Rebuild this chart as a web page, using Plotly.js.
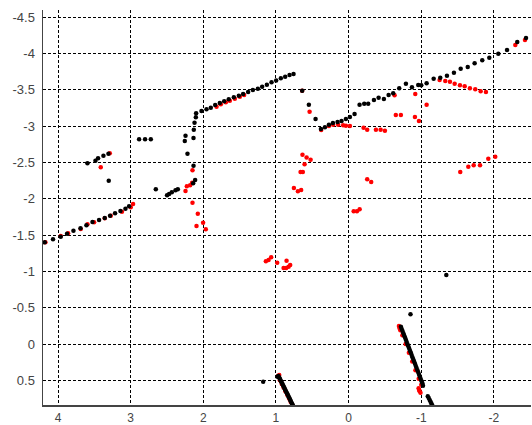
<!DOCTYPE html>
<html>
<head>
<meta charset="utf-8">
<script src="https://cdn.plot.ly/plotly-3.0.1.min.js"></script>
<style>html,body{margin:0;padding:0;background:#fff;}#chart{width:532px;height:425px;}</style>
</head>
<body>
<div id="chart"></div>
<script>
// Black series
const blackX = [4.183,4.069,3.963,3.876,3.788,3.691,3.609,3.526,3.435,3.357,3.284,3.215,3.141,3.072,3.022,
  3.595,3.485,3.449,3.375,3.306,3.302,
  2.884,2.802,2.723,2.654,
  2.499,2.471,2.434,2.383,2.351,
  2.14,2.113,2.135,2.218,2.255,2.245,2.135,2.131,2.121,2.103,2.099,
  2.025,1.956,1.897,1.837,1.773,1.713,1.65,1.58,1.511,1.452,1.383,1.318,1.249,1.19,1.125,1.061,0.997,0.933,0.873,0.813,0.758,
  0.639,0.547,0.455,
  0.381,0.326,0.271,0.216,0.152,0.097,0.037,-0.018,-0.082,-0.151,-0.215,-0.27,-0.349,-0.413,-0.486,-0.551,-0.614,-0.697,-0.789,-0.872,-0.959,-1.0,-1.074,-1.171,-1.262,-1.354,-1.45,-1.543,-1.64,-1.735,-1.84,-1.937,-2.061,-2.181,-2.322,-2.442,
  -1.345,-0.852,1.176,
  0.98,0.967,0.955,0.947,0.94,0.93,0.922,0.912,0.903,0.895,0.885,0.876,0.868,0.858,0.848,0.84,0.83,0.822,0.812,0.803,0.795,0.786,0.776,0.768,
  -0.72,-0.731,-0.742,-0.754,-0.765,-0.777,-0.788,-0.8,-0.811,-0.822,-0.834,-0.845,-0.857,-0.868,-0.879,-0.891,-0.902,-0.914,-0.925,-0.936,-0.948,-0.959,-0.971,-0.982,-0.993,-1.005,-1.016,-1.024,
  -1.09,-1.103,-1.116,-1.128,-1.14,-1.152];
const blackY = [-1.40,-1.442,-1.478,-1.519,-1.561,-1.594,-1.635,-1.68,-1.707,-1.736,-1.767,-1.80,-1.832,-1.864,-1.897,
  -2.489,-2.525,-2.558,-2.594,-2.621,-2.25,
  -2.82,-2.82,-2.82,-2.131,
  -2.048,-2.066,-2.09,-2.117,-2.131,
  -2.213,-2.259,-2.456,-2.621,-2.796,-2.869,-2.837,-2.952,-3.048,-3.123,-3.178,
  -3.209,-3.233,-3.255,-3.292,-3.32,-3.343,-3.37,-3.398,-3.42,-3.444,-3.471,-3.499,-3.517,-3.544,-3.572,-3.605,-3.628,-3.66,-3.682,-3.705,-3.719,
  -3.489,-3.296,-3.099,
  -2.961,-2.984,-3.021,-3.044,-3.058,-3.072,-3.099,-3.127,-3.168,-3.296,-3.31,-3.31,-3.361,-3.393,-3.375,-3.43,-3.453,-3.522,-3.585,-3.536,-3.567,-3.563,-3.59,-3.654,-3.668,-3.696,-3.737,-3.792,-3.815,-3.866,-3.908,-3.944,-3.999,-4.05,-4.16,-4.215,
  -0.95,-0.409,0.519,
  0.452,0.441,0.46,0.478,0.492,0.512,0.53,0.548,0.567,0.585,0.603,0.622,0.64,0.66,0.679,0.697,0.716,0.733,0.752,0.771,0.79,0.808,0.827,0.845,
  -0.238,-0.208,-0.178,-0.148,-0.118,-0.088,-0.058,-0.028,0.002,0.032,0.062,0.092,0.122,0.152,0.182,0.212,0.242,0.272,0.302,0.332,0.362,0.392,0.422,0.452,0.482,0.512,0.542,0.575,
  0.72,0.745,0.77,0.795,0.82,0.845];

// Red series
const redX = [4.174,3.963,3.862,3.687,3.595,3.504,3.357,3.274,3.12,2.999,2.967,
  3.412,3.288,
  2.149,2.154,2.182,2.227,2.245,2.149,2.076,2.094,2.003,1.966,
  1.818,1.759,1.69,1.635,1.566,1.497,1.438,
  0.639,0.537,
  0.377,0.271,0.213,0.144,0.075,0.037,-0.018,
  -0.206,-0.256,-0.376,-0.441,-0.5,
  -0.633,-0.65,-0.72,-0.913,-0.968,-0.918,-1.074,
  -1.253,-1.331,-1.395,-1.46,-1.533,-1.598,-1.67,-1.744,-1.818,-1.891,
  -2.295,-2.428,
  -1.537,-1.648,-1.722,-1.809,-1.923,-2.019,
  0.635,0.578,0.523,0.606,0.661,0.63,0.753,0.698,0.653,
  -0.256,-0.311,
  -0.07,-0.115,-0.152,
  1.139,1.102,1.066,0.983,0.895,0.859,0.854,0.826,0.804,
  0.955,0.972,0.946,0.92,0.895,0.87,0.846,0.82,0.797,0.775,
  -0.693,-0.7,-0.712,-0.74,-0.785,-0.83,-0.876,-0.92,-0.965,-1.0,-0.964,-0.97,-0.978,-0.99];
const redY = [-1.40,-1.488,-1.525,-1.584,-1.649,-1.676,-1.731,-1.767,-1.822,-1.883,-1.928,
  -2.434,-2.627,
  -2.393,-2.222,-2.186,-2.172,-2.107,-1.946,-1.795,-1.625,-1.671,-1.58,
  -3.269,-3.301,-3.329,-3.351,-3.379,-3.406,-3.43,
  -3.489,-3.2,
  -2.948,-3.003,-3.021,-3.021,-3.012,-3.007,-3.003,
  -2.98,-2.952,-2.952,-2.952,-2.938,
  -3.425,-3.154,-3.154,-3.127,-3.072,-3.444,-3.296,
  -3.636,-3.623,-3.613,-3.585,-3.563,-3.549,-3.522,-3.508,-3.48,-3.471,
  -4.119,-4.187,
  -2.369,-2.442,-2.461,-2.461,-2.553,-2.58,
  -2.608,-2.567,-2.539,-2.475,-2.369,-2.369,-2.149,-2.103,-2.121,
  -2.268,-2.231,
  -1.828,-1.828,-1.855,
  -1.139,-1.157,-1.194,-1.12,-1.047,-1.047,-1.148,-1.065,-1.088,
  0.427,0.44,0.5,0.55,0.6,0.65,0.7,0.75,0.8,0.84,
  -0.248,-0.222,-0.19,-0.12,0.0,0.12,0.24,0.36,0.48,0.56,0.61,0.63,0.65,0.67];

const xTickVals = [4,3,2,1,0,-1,-2];
const xTickText = ['4','3','2','1','0','-1','-2'];
const yTickVals = [-4.5,-4,-3.5,-3,-2.5,-2,-1.5,-1,-0.5,0,0.5];
const yTickText = ['-4.5','-4','-3.5','-3','-2.5','-2','-1.5','-1','-0.5','0','0.5'];

const traces = [
  {x: redX, y: redY, type: 'scatter', mode: 'markers', marker: {color: '#ff0000', size: 4.5}, hoverinfo: 'skip'},
  {x: blackX, y: blackY, type: 'scatter', mode: 'markers', marker: {color: '#000000', size: 4.5}, hoverinfo: 'skip'}
];

const axisCommon = {
  showgrid: true, gridcolor: '#000', gridwidth: 1, griddash: '3px,2px',
  zeroline: false, showline: true, linecolor: '#444', linewidth: 1.5,
  ticks: '', tickmode: 'array', mirror: false
};

const layout = {
  width: 532, height: 425,
  margin: {l: 43, r: 1, t: 10, b: 20},
  paper_bgcolor: '#fff', plot_bgcolor: '#fff',
  showlegend: false,
  xaxis: Object.assign({}, axisCommon, {range: [4.207, -2.511], tickvals: xTickVals, ticktext: xTickText, ticklabelstandoff: 1,
    tickfont: {family: 'Liberation Sans, Arial, sans-serif', size: 12, color: '#444'}}),
  yaxis: Object.assign({}, axisCommon, {range: [0.84, -4.6], tickvals: yTickVals, ticktext: yTickText, ticklabelstandoff: 4,
    tickfont: {family: 'Liberation Sans, Arial, sans-serif', size: 13, color: '#444'}})
};

Plotly.newPlot('chart', traces, layout, {staticPlot: true, displayModeBar: false});
</script>
</body>
</html>
